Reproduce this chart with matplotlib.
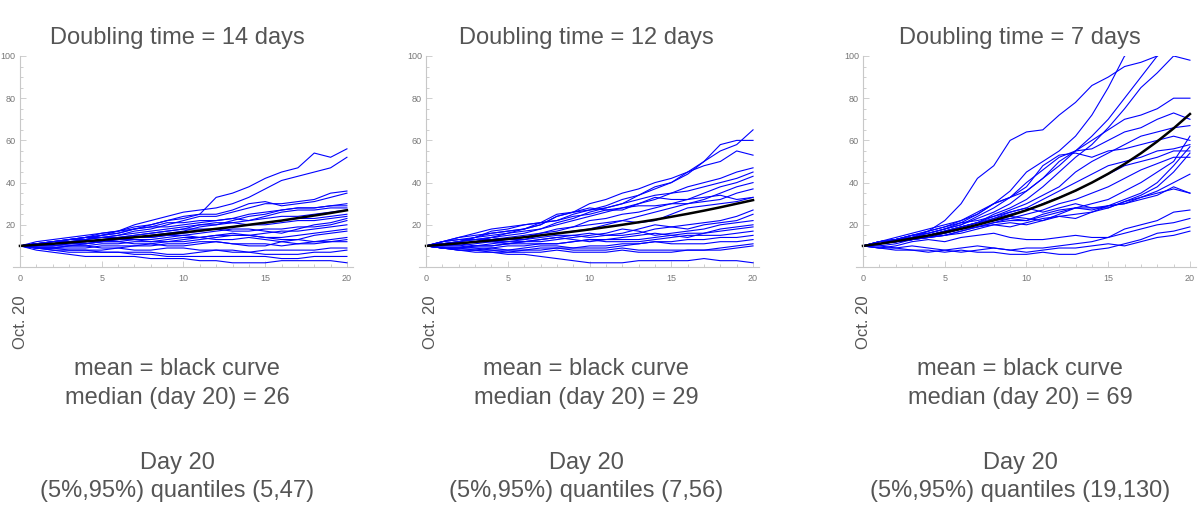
import numpy as np
import matplotlib.pyplot as plt
from matplotlib.ticker import MultipleLocator

plt.rcParams['font.family'] = ['Liberation Sans', 'DejaVu Sans']

days = list(range(21))

# doubling time = 14 days (values read per day)
paths_14 = [
    [10, 11, 12, 13, 14, 15, 16, 18, 20, 22, 24, 25, 33, 35, 38, 42, 45, 47, 54, 52, 56],
    [10, 12, 13, 14, 15, 16, 17, 20, 22, 24, 26, 27, 28, 30, 33, 37, 41, 43, 45, 47, 52],
    [10, 11, 11, 13, 13, 14, 15, 17, 18, 20, 22, 24, 24, 26, 28, 30, 30, 31, 32, 35, 36],
    [10, 11, 12, 13, 14, 16, 17, 19, 20, 22, 23, 25, 25, 27, 30, 31, 29, 30, 31, 33, 35],
    [10, 11, 11, 12, 12, 13, 14, 15, 16, 17, 18, 20, 20, 22, 24, 25, 27, 28, 28, 29, 30],
    [10, 11, 12, 12, 13, 15, 16, 18, 19, 21, 21, 22, 22, 23, 22, 24, 26, 27, 27, 28, 28],
    [10, 9, 9, 10, 11, 12, 13, 14, 15, 16, 17, 19, 20, 21, 22, 23, 24, 24, 25, 26, 27],
    [10, 10, 11, 12, 12, 13, 13, 14, 14, 15, 16, 17, 18, 19, 20, 21, 22, 23, 23, 24, 25],
    [10, 11, 12, 13, 14, 14, 15, 16, 17, 18, 19, 20, 21, 21, 20, 20, 21, 22, 22, 23, 24],
    [10, 10, 10, 11, 11, 12, 12, 13, 13, 14, 15, 16, 17, 18, 18, 17, 16, 18, 20, 21, 23],
    [10, 11, 11, 12, 13, 14, 14, 15, 16, 17, 18, 18, 18, 17, 17, 18, 18, 19, 19, 20, 22],
    [10, 9, 9, 10, 10, 11, 11, 12, 12, 13, 14, 14, 15, 15, 15, 16, 17, 17, 18, 19, 20],
    [10, 10, 10, 11, 11, 12, 12, 11, 11, 12, 12, 13, 14, 15, 15, 14, 14, 15, 16, 17, 18],
    [10, 11, 11, 12, 12, 13, 13, 14, 14, 15, 15, 14, 13, 13, 14, 13, 12, 13, 15, 16, 17],
    [10, 9, 9, 9, 9, 10, 10, 10, 10, 11, 11, 12, 12, 11, 11, 11, 10, 11, 12, 13, 14],
    [10, 10, 10, 10, 10, 9, 9, 10, 11, 10, 10, 11, 12, 11, 10, 10, 12, 11, 11, 12, 13],
    [10, 9, 8, 8, 8, 8, 9, 8, 8, 9, 9, 8, 8, 8, 7, 8, 8, 8, 8, 9, 9],
    [10, 9, 9, 8, 8, 7, 7, 7, 7, 6, 6, 7, 8, 7, 7, 6, 6, 6, 7, 7, 8],
    [10, 9, 8, 7, 7, 7, 7, 6, 6, 5, 5, 5, 5, 5, 5, 5, 4, 4, 5, 5, 5],
    [10, 8, 7, 6, 5, 5, 5, 5, 4, 4, 4, 3, 3, 2, 2, 2, 3, 3, 3, 3, 2],
    [10, 11, 12, 13, 14, 15, 17, 18, 19, 19, 20, 21, 22, 23, 25, 26, 27, 28, 28, 29, 29],
    [10, 10, 11, 11, 12, 12, 13, 13, 12, 12, 13, 14, 15, 16, 15, 14, 13, 13, 12, 12, 12],
]
mean_14 = [10, 10.5, 11, 11.6, 12.2, 12.8, 13.5, 14.1, 14.8, 15.6, 16.4,
           17.2, 18.1, 19, 20, 21, 22, 23.2, 24.4, 25.6, 26.9]

# doubling time = 12 days
paths_12 = [
    [10, 12, 14, 15, 16, 17, 18, 20, 24, 26, 30, 32, 35, 37, 40, 42, 45, 50, 55, 58, 65],
    [10, 11, 12, 14, 17, 18, 20, 21, 22, 25, 27, 28, 30, 34, 38, 40, 44, 50, 58, 60, 60],
    [10, 11, 11, 12, 14, 16, 18, 21, 25, 26, 27, 29, 32, 34, 37, 40, 45, 48, 50, 55, 53],
    [10, 12, 13, 14, 15, 16, 17, 18, 20, 22, 24, 26, 28, 30, 32, 35, 38, 40, 42, 45, 47],
    [10, 11, 12, 13, 14, 15, 16, 18, 21, 23, 26, 28, 30, 32, 34, 35, 36, 38, 40, 42, 45],
    [10, 11, 12, 14, 16, 17, 18, 20, 24, 26, 28, 27, 27, 30, 33, 32, 32, 35, 38, 40, 43],
    [10, 10, 11, 12, 12, 13, 14, 16, 17, 19, 22, 23, 25, 26, 28, 30, 30, 32, 35, 38, 40],
    [10, 12, 13, 13, 13, 14, 15, 16, 18, 19, 20, 21, 22, 24, 26, 28, 30, 31, 32, 35, 37],
    [10, 9, 9, 10, 11, 12, 13, 15, 16, 17, 18, 20, 22, 21, 22, 25, 28, 29, 30, 31, 33],
    [10, 11, 11, 12, 12, 12, 12, 13, 14, 15, 16, 15, 15, 16, 18, 19, 20, 21, 22, 24, 27],
    [10, 11, 12, 13, 14, 13, 13, 14, 15, 15, 14, 15, 16, 18, 20, 19, 18, 20, 21, 22, 25],
    [10, 9, 9, 10, 10, 11, 12, 12, 13, 14, 15, 16, 18, 17, 15, 16, 17, 18, 20, 21, 22],
    [10, 10, 10, 11, 12, 11, 11, 11, 11, 12, 13, 13, 14, 15, 16, 15, 14, 16, 18, 19, 20],
    [10, 11, 11, 10, 10, 11, 12, 13, 14, 13, 12, 13, 13, 13, 14, 15, 16, 16, 17, 18, 19],
    [10, 9, 8, 8, 9, 10, 10, 11, 11, 12, 13, 12, 12, 12, 13, 14, 15, 15, 15, 16, 17],
    [10, 9, 9, 9, 9, 8, 8, 9, 9, 9, 10, 10, 11, 11, 12, 12, 13, 13, 14, 14, 15],
    [10, 10, 10, 9, 8, 8, 9, 10, 10, 9, 9, 9, 10, 11, 12, 11, 11, 11, 12, 12, 13],
    [10, 9, 8, 8, 7, 7, 8, 8, 9, 8, 8, 8, 9, 8, 8, 8, 8, 8, 9, 10, 11],
    [10, 9, 9, 8, 8, 7, 7, 7, 8, 7, 7, 7, 8, 7, 7, 7, 8, 8, 8, 9, 10],
    [10, 9, 8, 7, 7, 6, 6, 5, 4, 3, 2, 2, 2, 3, 3, 3, 3, 4, 3, 3, 2],
    [10, 12, 14, 16, 18, 19, 20, 21, 22, 24, 25, 27, 28, 29, 29, 30, 32, 33, 34, 32, 33],
]
mean_12 = [10, 10.6, 11.2, 11.9, 12.6, 13.3, 14.1, 15, 15.9, 16.8, 17.8,
           18.9, 20, 21.2, 22.4, 23.8, 25.2, 26.7, 28.3, 30, 31.7]

# doubling time = 7 days (paths above 100 are cut off by the axis)
paths_7 = [
    [10, 11, 12, 14, 17, 22, 30, 42, 48, 60, 64, 65, 72, 78, 86, 90, 95, 97, 100, 104, 110],
    [10, 11, 13, 15, 17, 19, 22, 26, 30, 36, 45, 50, 55, 62, 72, 85, 100, 104, 108, 110, 112],
    [10, 12, 13, 15, 16, 18, 20, 23, 26, 30, 36, 42, 48, 55, 62, 70, 80, 90, 100, 104, 108],
    [10, 11, 12, 13, 15, 17, 19, 21, 25, 28, 32, 38, 45, 52, 58, 66, 75, 85, 92, 100, 98],
    [10, 11, 13, 15, 16, 18, 20, 24, 28, 33, 40, 46, 52, 55, 60, 65, 70, 72, 75, 80, 80],
    [10, 12, 13, 14, 16, 18, 21, 25, 30, 33, 36, 42, 50, 55, 56, 60, 64, 66, 70, 73, 70],
    [10, 11, 12, 13, 15, 17, 19, 21, 24, 27, 30, 34, 38, 45, 50, 54, 58, 62, 64, 66, 67],
    [10, 12, 14, 16, 18, 20, 22, 25, 30, 33, 38, 48, 53, 54, 52, 55, 56, 58, 60, 62, 60],
    [10, 11, 12, 14, 15, 16, 18, 20, 23, 26, 28, 32, 36, 40, 44, 48, 50, 52, 55, 56, 58],
    [10, 12, 13, 14, 15, 17, 19, 21, 23, 25, 27, 30, 33, 36, 40, 44, 48, 50, 52, 55, 55],
    [10, 10, 11, 13, 14, 15, 17, 19, 21, 23, 25, 27, 30, 32, 35, 38, 42, 46, 49, 52, 52],
    [10, 11, 12, 13, 15, 17, 19, 21, 22, 23, 22, 25, 27, 28, 30, 32, 36, 40, 45, 50, 62],
    [10, 12, 13, 14, 15, 16, 18, 20, 22, 24, 23, 22, 25, 28, 28, 29, 32, 35, 40, 48, 57],
    [10, 11, 12, 13, 14, 16, 18, 19, 20, 21, 20, 22, 24, 25, 26, 28, 31, 34, 38, 45, 54],
    [10, 12, 13, 15, 17, 19, 21, 22, 24, 26, 28, 26, 28, 30, 28, 28, 31, 33, 35, 37, 35],
    [10, 11, 12, 13, 14, 15, 16, 18, 20, 19, 21, 23, 24, 23, 26, 29, 30, 32, 34, 38, 35],
    [10, 11, 12, 13, 14, 15, 17, 19, 21, 22, 22, 24, 26, 28, 27, 29, 30, 33, 36, 40, 44],
    [10, 9, 10, 12, 13, 12, 14, 15, 16, 14, 13, 13, 14, 15, 14, 14, 18, 20, 22, 26, 27],
    [10, 9, 9, 10, 9, 8, 9, 10, 9, 8, 9, 9, 10, 11, 12, 14, 16, 18, 20, 21, 23],
    [10, 9, 8, 8, 7, 8, 7, 8, 9, 8, 7, 8, 9, 9, 10, 11, 10, 12, 14, 15, 17],
    [10, 10, 9, 8, 8, 7, 8, 7, 7, 6, 6, 7, 6, 6, 8, 9, 11, 13, 16, 17, 19],
]
mean_7 = [10, 11, 12.2, 13.5, 14.9, 16.4, 18.1, 20, 22.1, 24.4, 26.9,
          29.7, 32.8, 36.2, 40, 44.2, 48.8, 53.9, 59.5, 65.7, 72.5]

titles = ['Doubling time = 14 days', 'Doubling time = 12 days', 'Doubling time = 7 days']
medians = [26, 29, 69]
quantiles = ['(5,47)', '(7,56)', '(19,130)']

all_paths = [paths_14, paths_12, paths_7]
all_means = [mean_14, mean_12, mean_7]
lefts = [0.0108, 0.3495, 0.7139]
text_x = [0.1476, 0.4887, 0.8507]
oct_x = [0.0175, 0.3590, 0.7205]

grey = '#555555'
fig = plt.figure(figsize=(11.99, 5.08), dpi=100)

for i in range(3):
    ax = fig.add_axes([lefts[i], 0.4744, 0.2836, 0.4154])
    for p in all_paths[i]:
        ax.plot(days, p, color='#0000ff', lw=0.8)
    ax.plot(days, all_means[i], color='black', lw=1.8)
    ax.set_xlim(-0.43, 20.37)
    ax.set_ylim(0, 100)
    ax.spines['top'].set_visible(False)
    ax.spines['right'].set_visible(False)
    ax.spines['left'].set_position(('data', 0))
    for s in ['left', 'bottom']:
        ax.spines[s].set_color('#c8c8c8')
        ax.spines[s].set_linewidth(0.8)
    ax.xaxis.set_major_locator(MultipleLocator(5))
    ax.xaxis.set_minor_locator(MultipleLocator(1))
    ax.set_yticks([20, 40, 60, 80, 100])
    ax.yaxis.set_minor_locator(MultipleLocator(5))
    ax.tick_params(which='both', direction='in', color='#c8c8c8', labelcolor='#777777',
                   labelsize=6.5, width=0.6)
    ax.tick_params(which='major', length=4)
    ax.tick_params(which='minor', length=2)
    ax.tick_params(axis='y', pad=3)
    ax.tick_params(axis='x', pad=5)

    fig.text(text_x[i], 0.925, titles[i], ha='center', va='center', fontsize=17, color=grey)
    fig.text(text_x[i], 0.245, 'mean = black curve\nmedian (day 20) = %d' % medians[i],
             ha='center', va='center', fontsize=17, color=grey, linespacing=1.4)
    fig.text(text_x[i], 0.061, 'Day 20\n(5%%,95%%) quantiles %s' % quantiles[i],
             ha='center', va='center', fontsize=17, color=grey, linespacing=1.4)
    fig.text(oct_x[i], 0.366, 'Oct. 20', rotation=90, ha='center', va='center',
             fontsize=12, color=grey)

fig.savefig('out.png', dpi=100)
